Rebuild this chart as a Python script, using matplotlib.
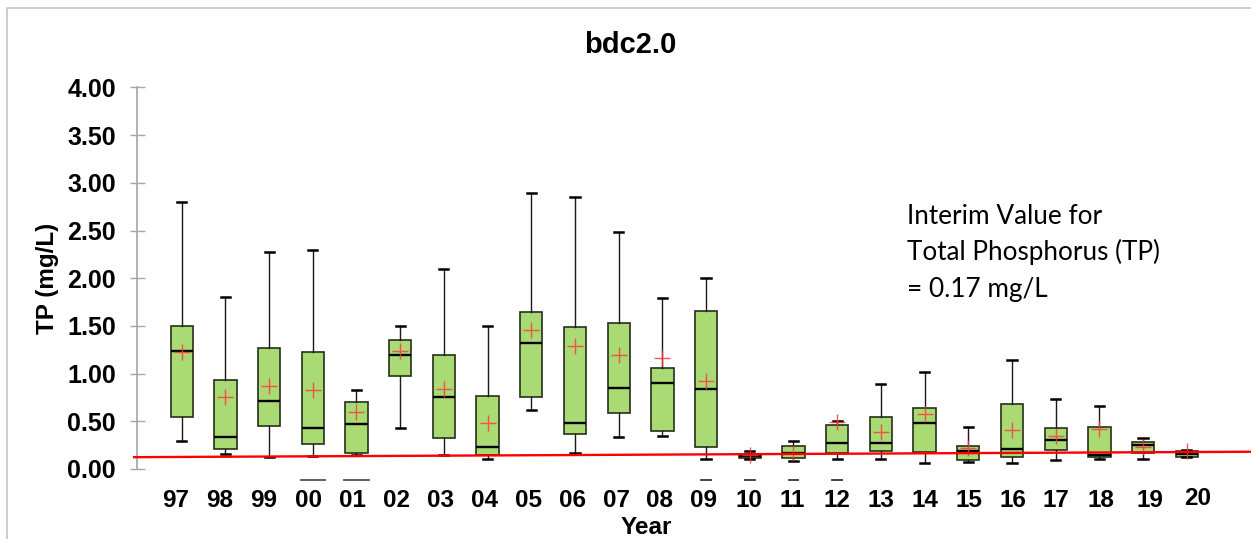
import numpy as np
import matplotlib.pyplot as plt
from matplotlib.lines import Line2D
from matplotlib.transforms import ScaledTranslation

plt.rcParams['font.family'] = ['Liberation Sans', 'DejaVu Sans']

# yearly TP statistics (mg/L)
years = ['97', '98', '99', '00', '01', '02', '03', '04', '05', '06', '07', '08',
         '09', '10', '11', '12', '13', '14', '15', '16', '17', '18', '19', '20']
whisker_hi = [2.80, 1.80, 2.27, 2.30, 0.83, 1.50, 2.10, 1.50, 2.89, 2.85, 2.48, 1.79,
              2.00, 0.19, 0.29, 0.50, 0.89, 1.02, 0.44, 1.14, 0.735, 0.66, 0.33, 0.20]
q3 = [1.50, 0.93, 1.27, 1.23, 0.70, 1.35, 1.20, 0.76, 1.65, 1.49, 1.53, 1.06,
      1.66, 0.155, 0.24, 0.46, 0.55, 0.635, 0.24, 0.68, 0.43, 0.445, 0.285, 0.185]
median = [1.24, 0.34, 0.71, 0.43, 0.47, 1.20, 0.75, 0.23, 1.32, 0.48, 0.85, 0.90,
          0.84, 0.135, 0.17, 0.27, 0.275, 0.48, 0.19, 0.21, 0.30, 0.15, 0.248, 0.16]
q1 = [0.54, 0.21, 0.45, 0.26, 0.17, 0.98, 0.32, 0.15, 0.75, 0.37, 0.59, 0.40,
      0.23, 0.115, 0.12, 0.17, 0.19, 0.18, 0.09, 0.13, 0.195, 0.125, 0.165, 0.13]
whisker_lo = [0.29, 0.16, 0.13, 0.14, 0.15, 0.43, 0.15, 0.10, 0.62, 0.17, 0.34, 0.35,
              0.10, 0.10, 0.08, 0.108, 0.108, 0.06, 0.07, 0.06, 0.095, 0.10, 0.105, 0.125]
mean = [1.23, 0.75, 0.87, 0.83, 0.60, 1.24, 0.84, 0.48, 1.46, 1.29, 1.20, 1.16,
        0.92, 0.143, 0.17, 0.495, 0.39, 0.58, 0.216, 0.41, 0.345, 0.415, 0.227, 0.19]

# small dashes drawn below the axis for some years
long_dash_years = ['00', '01']
short_dash_years = ['09', '10', '11', '12']
dash_value = -0.112

# interim value line (slightly sloped in the original)
interim_x = [-1.09, 24.47]
interim_y = [0.124, 0.181]
note_lines = ['Interim Value for', 'Total Phosphorus (TP)', '= 0.17 mg/L']

fig = plt.figure(figsize=(12.51, 5.39), dpi=100)
W, H = 1251, 539
ax = fig.add_axes([137.3 / W, 1 - 469 / H, 1 - 137.3 / W, 381.6 / H])

pos = np.arange(len(years))
stats = []
for i in range(len(years)):
    stats.append(dict(med=median[i], q1=q1[i], q3=q3[i], whislo=whisker_lo[i],
                      whishi=whisker_hi[i], mean=mean[i], fliers=[]))

ax.bxp(stats, positions=pos, widths=0.51, capwidths=0.21, showmeans=True,
       showfliers=False, patch_artist=True,
       boxprops=dict(facecolor='#a9da74', edgecolor='#25301a', linewidth=1.2),
       medianprops=dict(color='black', linewidth=1.7),
       whiskerprops=dict(color='#1a1a1a', linewidth=1.0),
       capprops=dict(color='black', linewidth=1.8),
       meanprops=dict(marker='+', markersize=12, markeredgecolor='#ff3b3b',
                      markeredgewidth=1.0, alpha=0.85))

for y in long_dash_years:
    i = years.index(y)
    ax.plot([i - 0.28, i + 0.28], [dash_value] * 2, color='#4d5a3a', lw=1.3, clip_on=False)
for y in short_dash_years:
    i = years.index(y)
    ax.plot([i - 0.11, i + 0.11], [dash_value] * 2, color='#333333', lw=1.3, clip_on=False)

ax.plot(interim_x, interim_y, color='red', lw=1.7, clip_on=False, zorder=6)

ax.set_xlim(-1.016, 24.47)
ax.set_ylim(0, 4)
ax.set_yticks(np.arange(0, 4.01, 0.5))
ax.yaxis.set_major_formatter(plt.FormatStrFormatter('%.2f'))
ax.set_xticks(pos)
ax.set_xticklabels(years)

for s in ['top', 'right', 'bottom']:
    ax.spines[s].set_visible(False)
ax.spines['left'].set_color('#a6a6a6')
ax.spines['left'].set_linewidth(1.2)

ax.tick_params(axis='y', direction='inout', length=10.8, width=1.0, color='#a6a6a6',
               labelsize=18, pad=10)
ax.tick_params(axis='x', length=0, labelsize=17.5, pad=14.5)
for lab in ax.get_yticklabels() + ax.get_xticklabels():
    lab.set_fontweight('bold')

# x labels are not exactly under the boxes in the original
label_dx = [-5.9, -5.5, -5.6, -4.7, -4.5, -3.7, -3.5, -3.2, -3.0, -2.8, -2.5, -2.6,
            -2.5, -1.2, -1.6, -0.6, 0.1, 0.3, 0.5, 0.5, 0.0, 1.2, 6.7, 11.3]
label_dy = [0] * 23 + [1.7]
for lab, dx, dy in zip(ax.get_xticklabels(), label_dx, label_dy):
    lab.set_transform(lab.get_transform() + ScaledTranslation(dx / 100, dy / 100, fig.dpi_scale_trans))

ax.set_ylabel('TP (mg/L)', fontsize=17.5, fontweight='bold', va='center')
ax.yaxis.set_label_coords((47.5 - 137.3) / 1113.7, 0.5)
ax.set_xlabel('Year', fontsize=17.5, fontweight='bold', va='bottom')
ax.xaxis.set_label_coords((646 - 137.3) / 1113.7, (469 - 538.5) / 381.6)

fig.text(630 / W, 1 - 53.3 / H, 'bdc2.0', fontsize=21, fontweight='bold',
         ha='center', va='baseline')

for k, line in enumerate(note_lines):
    fig.text(907 / W, 1 - (224 + 36.3 * k) / H, line, fontsize=18.8,
             family=['Lato', 'DejaVu Sans'], ha='left', va='baseline')

# light frame around the chart area
fig.add_artist(Line2D([6.7 / W, 6.7 / W, 1.0], [0.0, 1 - 8.3 / H, 1 - 8.3 / H],
                      transform=fig.transFigure, color='#c0c0c0', lw=1.1))

fig.savefig('out.png', dpi=100)
